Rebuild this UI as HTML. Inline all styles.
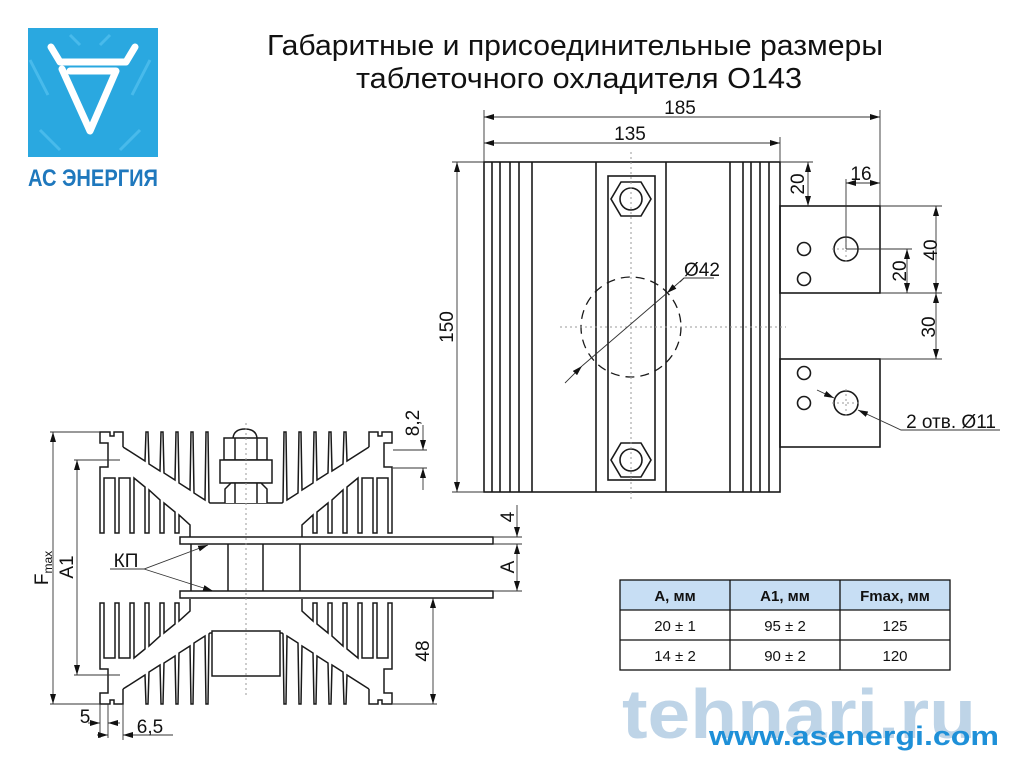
<!DOCTYPE html>
<html><head><meta charset="utf-8"><style>
html,body{margin:0;padding:0;background:#fff;}
svg{display:block;}
text{font-family:"Liberation Sans","DejaVu Sans",sans-serif;}
</style></head><body>
<svg width="1024" height="768" viewBox="0 0 1024 768" xmlns="http://www.w3.org/2000/svg">
<defs>
<marker id="a" viewBox="0 0 10 6" refX="10" refY="3" markerWidth="10" markerHeight="6" markerUnits="userSpaceOnUse" orient="auto-start-reverse">
<path d="M0,0 L10,3 L0,6 Z" fill="#111"/></marker>
<g id="q" fill="none" stroke="#1a1a1a" stroke-width="1.5" stroke-linejoin="miter">
<path d="M123,447 V432 H114 V436 H110 V432 H100 V443 H108 V467 H100 V533 H104 V478 H115 V533 H119 V478 H130 V533 H134 V478 L145,487 V533 H149 V490 L160,500 V533 H164 V503 L175,512 V533 H179 V515 L190,525 V537"/>
<path d="M123,447 L145,461 L146,432 H148 L149,464 L160,471 L161,432 H163 L164,473 L175,480 L176,432 H178 L179,483 L190,490 L191,432 H193 L194,493 L205,500 L206,432 H208 L209,502 L210,503 H246"/>
</g>
</defs>
<rect width="1024" height="768" fill="#fff"/>

<!-- logo -->
<rect x="28" y="28" width="130" height="129" fill="#2aa8e0"/>
<g fill="none" stroke="#55c2ef" stroke-width="3" opacity="0.7">
<path d="M30,60 L48,95 M150,60 L132,95 M40,130 L60,150 M140,130 L120,150 M70,35 L80,45 M110,35 L100,45"/>
</g>
<path d="M51,47 L60,62 H126 L135,47 M62,69 L90,131 L116,71 H70" fill="none" stroke="#fff" stroke-width="7" stroke-linecap="round" stroke-linejoin="round"/>
<text x="28" y="186" font-size="24" font-weight="bold" fill="#1f78bd" textLength="130" lengthAdjust="spacingAndGlyphs">АС ЭНЕРГИЯ</text>

<!-- title -->
<text x="267" y="55" font-size="29" fill="#111" textLength="616" lengthAdjust="spacingAndGlyphs">Габаритные и присоединительные размеры</text>
<text x="356" y="88" font-size="29" fill="#111" textLength="446" lengthAdjust="spacingAndGlyphs">таблеточного охладителя О143</text>

<!-- TOP VIEW -->
<g fill="none" stroke="#1a1a1a" stroke-width="1.6">
<rect x="484" y="162" width="296" height="330"/>
<path d="M492,162V492 M500,162V492 M510,162V492 M519,162V492 M532,162V492 M596,162V492 M666,162V492 M730,162V492 M743,162V492 M751,162V492 M760,162V492 M769,162V492"/>
<rect x="608" y="176" width="47" height="304"/>
<polygon points="651,199 641,182 621,182 611,199 621,216 641,216"/>
<circle cx="631" cy="199" r="11"/>
<polygon points="651,460 641,443 621,443 611,460 621,477 641,477"/>
<circle cx="631" cy="460" r="11"/>
<rect x="780" y="206" width="100" height="87"/>
<rect x="780" y="359" width="100" height="88"/>
<circle cx="804" cy="249" r="6.5"/><circle cx="804" cy="279" r="6.5"/>
<circle cx="804" cy="373" r="6.5"/><circle cx="804" cy="403" r="6.5"/>
<circle cx="846" cy="249" r="12"/><circle cx="846" cy="403" r="12"/>
</g>
<circle cx="631" cy="327" r="50" fill="none" stroke="#1a1a1a" stroke-width="1.3" stroke-dasharray="9,6"/>
<g stroke="#999" stroke-width="1" stroke-dasharray="2,3" fill="none">
<path d="M631,152V500 M560,327H786 M846,235V263 M832,249H860 M846,389V417 M832,403H860"/>
</g>
<!-- top view dims -->
<g stroke="#333" stroke-width="0.9" fill="none">
<path d="M484,110V162 M880,110V206 M780,137V162 M452,162H484 M452,492H484 M780,162H813 M846,179V249 M880,206H942 M880,293H942 M880,359H942 M846,249H912"/>
<path d="M484,117H880" marker-start="url(#a)" marker-end="url(#a)"/>
<path d="M484,143H780" marker-start="url(#a)" marker-end="url(#a)"/>
<path d="M457,162V492" marker-start="url(#a)" marker-end="url(#a)"/>
<path d="M808,162V206" marker-start="url(#a)" marker-end="url(#a)"/>
<path d="M846,183H880" marker-start="url(#a)" marker-end="url(#a)"/>
<path d="M936,206V293" marker-start="url(#a)" marker-end="url(#a)"/>
<path d="M907,249V293" marker-start="url(#a)" marker-end="url(#a)"/>
<path d="M936,293V359" marker-start="url(#a)" marker-end="url(#a)"/>
<path d="M565,383 L582,366" marker-end="url(#a)"/>
<path d="M714,278H684 L680,282" /><path d="M684,278 L667,293" marker-end="url(#a)"/><path d="M582,366 L667,293"/>
<path d="M1000,430H901 L858,410" marker-end="url(#a)"/>
<path d="M817,390 L834,398" marker-end="url(#a)"/>
</g>
<g font-size="19" fill="#111" text-anchor="middle">
<text x="680" y="114">185</text>
<text x="630" y="140">135</text>
<text x="702" y="276">Ø42</text>
<text x="951" y="428">2 отв. Ø11</text>
<text x="861" y="180">16</text>
<text transform="translate(804,184) rotate(-90)">20</text>
<text transform="translate(937,250) rotate(-90)">40</text>
<text transform="translate(906,271) rotate(-90)">20</text>
<text transform="translate(935,327) rotate(-90)">30</text>
<text transform="translate(453,327) rotate(-90)">150</text>
</g>

<!-- SIDE VIEW -->
<use href="#q"/>
<use href="#q" transform="matrix(-1,0,0,1,492,0)"/>
<use href="#q" transform="matrix(1,0,0,-1,0,1136)"/>
<use href="#q" transform="matrix(-1,0,0,-1,492,1136)"/>
<g fill="#fff" stroke="#1a1a1a" stroke-width="1.5">
<path d="M233,438 Q234,429 245,429 Q256,429 257,438"/>
<rect x="224" y="438" width="43" height="22"/>
<rect x="220" y="460" width="52" height="23"/>
<path d="M225,503 V489 L231,483 H261 L267,489 V503"/>
<path d="M235,438V460 M257,438V460 M235,483V503 M257,483V503" fill="none"/>
<rect x="212" y="631" width="68" height="45"/>
<rect x="180" y="537" width="313" height="7"/>
<rect x="180" y="591" width="313" height="7"/>
<path d="M191,544V591 M228,544V591 M263,544V591 M300,544V591" fill="none"/>
</g>
<path d="M246,423V695" stroke="#999" stroke-width="1" stroke-dasharray="2,3"/>
<g stroke="#333" stroke-width="0.9" fill="none">
<path d="M50,432H100 M50,704H100 M74,460H120 M74,675H120 M393,450H427 M393,468H427 M493,537H522 M493,544H522 M493,591H522 M393,704H437 M100,704V738 M108,704V738 M123,704V740"/>
<path d="M53,432V704" marker-start="url(#a)" marker-end="url(#a)"/>
<path d="M77,460V675" marker-start="url(#a)" marker-end="url(#a)"/>
<path d="M423,425V450" marker-end="url(#a)"/><path d="M423,490V468" marker-end="url(#a)"/>
<path d="M517,505V537" marker-end="url(#a)"/><path d="M517,544V591" marker-start="url(#a)" marker-end="url(#a)"/>
<path d="M433,598V704" marker-start="url(#a)" marker-end="url(#a)"/>
<path d="M88,723H100" marker-end="url(#a)"/><path d="M120,723H108" marker-end="url(#a)"/>
<path d="M97,735H108" marker-end="url(#a)"/><path d="M173,735H123" marker-end="url(#a)"/>
<path d="M110,569H144 L208,545" marker-end="url(#a)"/><path d="M144,569 L213,591" marker-end="url(#a)"/>
</g>
<g font-size="19" fill="#111" text-anchor="middle">
<text transform="translate(48,568) rotate(-90)">F<tspan font-size="12" dy="4">max</tspan></text>
<text transform="translate(73,567) rotate(-90)">A1</text>
<text x="126" y="567">КП</text>
<text transform="translate(419,423) rotate(-90)">8,2</text>
<text transform="translate(514,517) rotate(-90)">4</text>
<text transform="translate(514,567) rotate(-90)">A</text>
<text transform="translate(429,651) rotate(-90)">48</text>
<text x="85" y="723">5</text>
<text x="150" y="733">6,5</text>
</g>

<!-- table -->
<rect x="620" y="580" width="330" height="30" fill="#c7def4"/>
<g stroke="#111" stroke-width="1.3" fill="none">
<rect x="620" y="580" width="330" height="90"/>
<path d="M620,610H950 M620,640H950 M730,580V670 M840,580V670"/>
</g>
<g font-size="15" fill="#111" text-anchor="middle" font-family="'DejaVu Sans',sans-serif">
<text x="675" y="601" font-weight="bold">A, мм</text>
<text x="785" y="601" font-weight="bold">A1, мм</text>
<text x="895" y="601" font-weight="bold">Fmax, мм</text>
<text x="675" y="631">20 ± 1</text><text x="785" y="631">95 ± 2</text><text x="895" y="631">125</text>
<text x="675" y="661">14 ± 2</text><text x="785" y="661">90 ± 2</text><text x="895" y="661">120</text>
</g>

<!-- watermarks -->
<text x="622" y="738" font-size="70" font-weight="bold" fill="#a9c6e0" opacity="0.75" textLength="354" lengthAdjust="spacingAndGlyphs" font-family="'DejaVu Sans',sans-serif">tehnari.ru</text>
<text x="709" y="745" font-size="27" font-weight="bold" fill="#1e90d8" textLength="290" lengthAdjust="spacingAndGlyphs">www.asenergi.com</text>
</svg>
</body></html>
